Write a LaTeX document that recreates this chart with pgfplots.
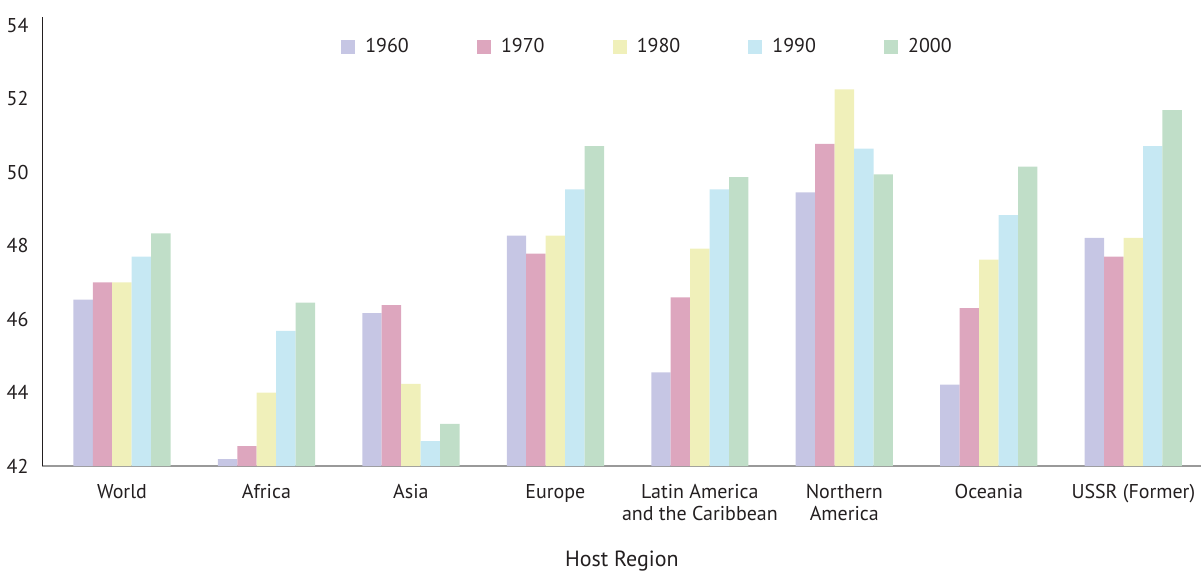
\documentclass[border=0pt]{standalone}
\usepackage{fontspec}
\setmainfont{PT Sans}
\usepackage{pgfplots}
\pgfplotsset{compat=1.18}
\definecolor{c1960}{RGB}{198,198,228}
\definecolor{c1970}{RGB}{221,166,190}
\definecolor{c1980}{RGB}{240,240,186}
\definecolor{c1990}{RGB}{198,232,243}
\definecolor{c2000}{RGB}{192,222,200}
\definecolor{textc}{RGB}{35,31,32}

\begin{document}
\begin{tikzpicture}
\begin{axis}[
    width=578bp, height=224bp, scale only axis,
    ybar=0pt, bar width=0.1346,
    xmin=-0.55, xmax=7.47,
    ymin=42, ymax=54.22,
    xtick={0,...,7},
    xticklabels={World,Africa,Asia,Europe,{Latin America\\and the Caribbean},{Northern\\America},Oceania,USSR (Former)},
    ytick={42,44,...,54},
    /pgf/number format/assume math mode=true,
    axis x line*=bottom, axis y line*=left,
    x axis line style={gray!80, line width=0.8bp, -},
    y axis line style={textc, line width=0.9bp, -},
    major tick length=0pt,
    tick label style={font=\fontsize{10}{11}\selectfont, text=textc},
    xticklabel style={align=center, anchor=north, yshift=-5.5bp},
    yticklabel style={xshift=-3.5bp},
    xlabel={Host Region},
    xlabel style={at={(axis description cs:0.5,0)}, anchor=base, inner sep=0pt, yshift=-50bp, font=\fontsize{11}{13}\selectfont, text=textc},
    legend columns=5,
    legend style={at={(axis description cs:0.523,0.933)}, anchor=center, draw=none, fill=none,
        font=\fontsize{10}{12}\selectfont, text=textc,
        /tikz/every odd column/.append style={column sep=3bp},
        /tikz/every even column/.append style={column sep=32bp}},
    legend image code/.code={\fill[#1] (0bp,-3.5bp) rectangle (7bp,3.5bp);},
]
\addplot[fill=c1960, draw=none] coordinates {(0,46.53) (1,42.19) (2,46.16) (3,48.27) (4,44.55) (5,49.45) (6,44.22) (7,48.21)};
\addplot[fill=c1970, draw=none] coordinates {(0,47.0) (1,42.54) (2,46.38) (3,47.78) (4,46.59) (5,50.77) (6,46.3) (7,47.7)};
\addplot[fill=c1980, draw=none] coordinates {(0,47.0) (1,44.0) (2,44.24) (3,48.27) (4,47.92) (5,52.25) (6,47.62) (7,48.21)};
\addplot[fill=c1990, draw=none] coordinates {(0,47.7) (1,45.68) (2,42.68) (3,49.53) (4,49.53) (5,50.64) (6,48.83) (7,50.71)};
\addplot[fill=c2000, draw=none] coordinates {(0,48.33) (1,46.45) (2,43.15) (3,50.71) (4,49.86) (5,49.94) (6,50.15) (7,51.69)};
\legend{1960,1970,1980,1990,2000}
\end{axis}
\path (current axis.north west) ++(0,8.5bp);
\end{tikzpicture}
\end{document}
